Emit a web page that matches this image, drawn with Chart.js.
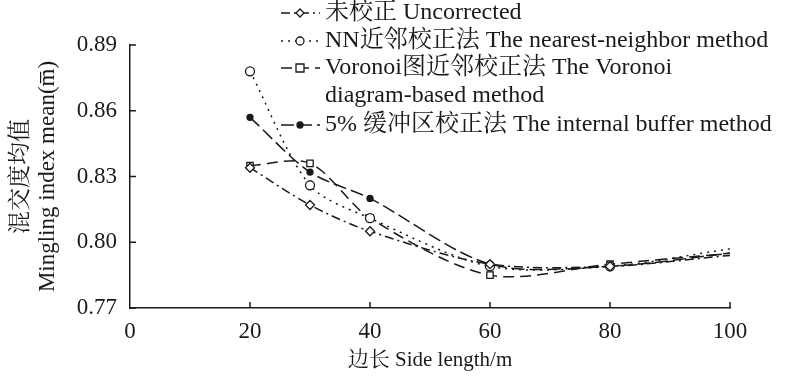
<!DOCTYPE html>
<html>
<head>
<meta charset="utf-8">
<script src="https://cdn.jsdelivr.net/npm/chart.js@4"></script>
<style>
  html, body { margin: 0; padding: 0; background: #fff; }
  #wrap { width: 800px; height: 377px; }
</style>
</head>
<body>
<div id="wrap"><canvas id="mingling"></canvas></div>
<script>
const sideLength = [20, 30, 40, 60, 80, 100];
const uncorrected = [0.834, 0.817, 0.805, 0.790, 0.789, 0.794];
const nearestNeighbor = [0.878, 0.826, 0.811, 0.789, 0.789, 0.797];
const voronoi = [0.835, 0.836, 0.811, 0.785, 0.790, 0.795];
const buffer = [0.857, 0.832, 0.820, 0.790, 0.789, 0.795];
const seriesLabels = [
  ['未校正 Uncorrected'],
  ['NN近邻校正法 The nearest-neighbor method'],
  ['Voronoi图近邻校正法 The Voronoi', 'diagram-based method'],
  ['5% 缓冲区校正法 The internal buffer method']
];
const xTicks = [0, 20, 40, 60, 80, 100];
const yTicks = [0.77, 0.80, 0.83, 0.86, 0.89];

const serif = "'Liberation Serif', 'Noto Serif CJK SC', 'Noto Sans CJK SC', serif";
const ink = '#1a1a1a';

function pts(ys) {
  return sideLength.map((x, i) => ({ x: x, y: ys[i] }));
}
// no marker on the last point
const radii = [4.5, 4.5, 4.5, 4.5, 4.5, 0];

// legend + inward ticks drawn on the canvas
const extras = {
  id: 'extras',
  afterDraw(chart) {
    const ctx = chart.ctx;
    const xs = chart.scales.x, ys = chart.scales.y;
    ctx.save();
    ctx.strokeStyle = ink;
    ctx.lineWidth = 1.5;
    ctx.setLineDash([]);
    xTicks.forEach(v => {
      if (v === 0) return;
      const px = xs.getPixelForValue(v);
      ctx.beginPath(); ctx.moveTo(px, ys.bottom); ctx.lineTo(px, ys.bottom - 6); ctx.stroke();
    });
    yTicks.forEach(v => {
      const py = ys.getPixelForValue(v);
      ctx.beginPath(); ctx.moveTo(xs.left, py); ctx.lineTo(xs.left + 6, py); ctx.stroke();
    });

    const rowsY = [13, 41, 68, 125];
    chart.data.datasets.forEach((ds, i) => {
      const y = rowsY[i];
      ctx.strokeStyle = ink;
      ctx.lineWidth = ds.borderWidth;
      ctx.setLineDash(ds.borderDash || []);
      ctx.beginPath(); ctx.moveTo(281, y); ctx.lineTo(320, y); ctx.stroke();
      ctx.setLineDash([]);
      // marker
      ctx.fillStyle = ds.pointBackgroundColor;
      ctx.lineWidth = 1.3;
      const r = 4;
      ctx.beginPath();
      if (ds.pointStyle === 'rectRot') {
        ctx.moveTo(300, y - r); ctx.lineTo(300 + r, y); ctx.lineTo(300, y + r); ctx.lineTo(300 - r, y); ctx.closePath();
      } else if (ds.pointStyle === 'rect') {
        ctx.rect(300 - r, y - r, 2 * r, 2 * r);
      } else {
        ctx.arc(300, y, ds.pointBackgroundColor === ink ? 3 : r, 0, Math.PI * 2);
      }
      ctx.fill(); ctx.stroke();
      ctx.fillStyle = ink;
      ctx.font = '24px ' + serif;
      ctx.textBaseline = 'middle';
      seriesLabels[i].forEach((t, k) => ctx.fillText(t, 325, y + k * 28));
    });
    ctx.restore();
  }
};

new Chart(document.getElementById('mingling').getContext('2d'), {
  type: 'line',
  plugins: [extras],
  data: {
    datasets: [
      { data: pts(uncorrected), borderDash: [9, 4, 2, 4], pointStyle: 'rectRot',
        pointBackgroundColor: '#fff' },
      { data: pts(nearestNeighbor), borderDash: [2, 5], pointStyle: 'circle',
        pointBackgroundColor: '#fff' },
      { data: pts(voronoi), borderDash: [11, 6], pointStyle: 'rect',
        pointBackgroundColor: '#fff' },
      { data: pts(buffer), borderDash: [13, 5], pointStyle: 'circle',
        pointBackgroundColor: ink, pointRadius: [3, 3, 3, 3, 3, 0] }
    ].map(d => Object.assign({
      borderColor: ink, borderWidth: 1.5, pointBorderColor: ink, pointBorderWidth: 1.3,
      pointRadius: radii, tension: 0.3, fill: false
    }, d))
  },
  options: {
    responsive: true,
    maintainAspectRatio: false,
    animation: false,
    layout: { padding: { top: 45, right: 70, left: 3, bottom: 0 } },
    plugins: { legend: { display: false }, tooltip: { enabled: false } },
    scales: {
      x: {
        type: 'linear', min: 0, max: 100,
        afterBuildTicks: s => { s.ticks = xTicks.map(v => ({ value: v })); },
        afterFit: s => { s.height = 69; },
        grid: { display: false },
        border: { display: true, color: ink, width: 1.5 },
        ticks: { color: ink, font: { family: serif, size: 23 }, padding: 2 },
        title: { display: true, text: '边长 Side length/m', color: ink,
          font: { family: serif, size: 21 }, padding: { top: 0 } }
      },
      y: {
        min: 0.77, max: 0.89,
        afterBuildTicks: s => { s.ticks = yTicks.map(v => ({ value: v })); },
        afterFit: s => { s.width = 127; },
        grid: { display: false },
        border: { display: true, color: ink, width: 1.5 },
        ticks: { color: ink, font: { family: serif, size: 23 }, padding: 5,
          callback: v => v.toFixed(2) },
        title: { display: true, text: ['混交度均值', 'Mingling index mean(m\u0305)'], color: ink,
          font: { family: serif, size: 23, lineHeight: 1.2 }, padding: { bottom: 0 } }
      }
    }
  }
});
</script>
</body>
</html>
